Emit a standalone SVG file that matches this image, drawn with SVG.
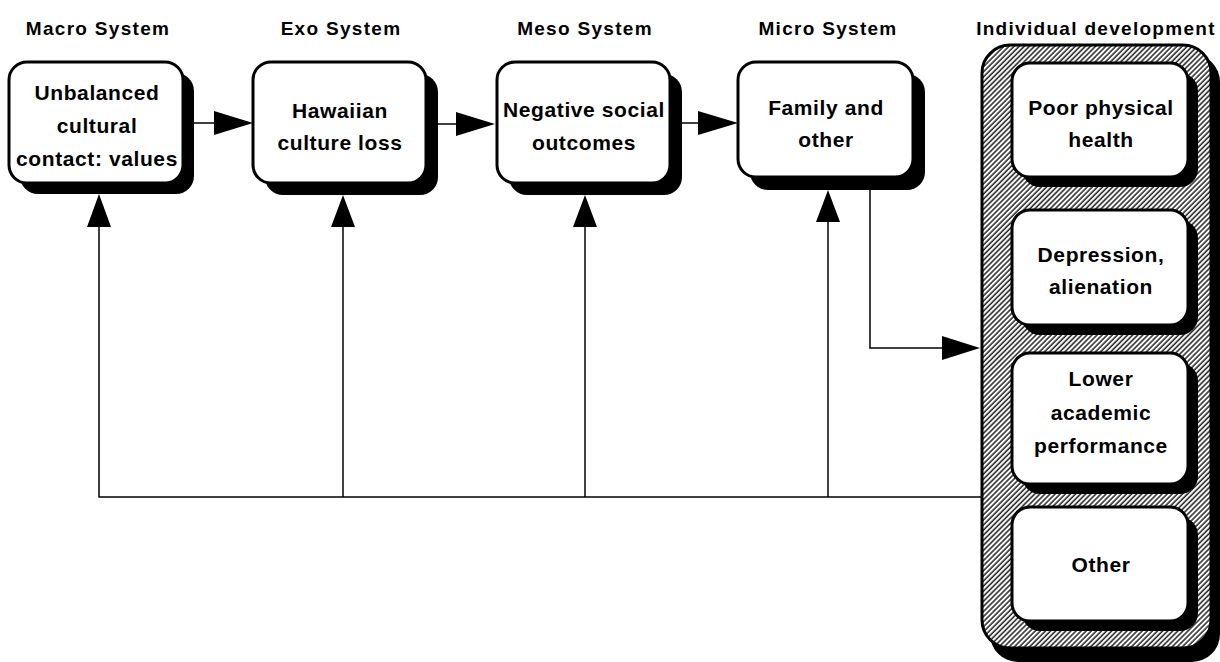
<svg xmlns="http://www.w3.org/2000/svg" width="1220" height="662" viewBox="0 0 1220 662">
<defs>
<pattern id="hatch" width="3.6" height="10" patternUnits="userSpaceOnUse" patternTransform="rotate(45)">
<rect width="3.6" height="10" fill="#fff"/>
<line x1="1" y1="0" x2="1" y2="10" stroke="#000" stroke-width="1.3"/>
</pattern>
</defs>
<style>
.hdr{font-family:"Liberation Sans",Arial,sans-serif;font-weight:bold;font-size:19px;letter-spacing:1.3px;text-anchor:middle;fill:#000}
.lbl{font-family:"Liberation Sans",Arial,sans-serif;font-weight:bold;font-size:21px;letter-spacing:0.6px;text-anchor:middle;fill:#000}
.box{fill:#fff;stroke:#000;stroke-width:3}
.shd{fill:#000}
.ln{fill:none;stroke:#000;stroke-width:1.5}
.ah{fill:#000}
</style>
<rect width="1220" height="662" fill="#fff"/>

<g id="headers">
<text class="hdr" x="98" y="35">Macro System</text>
<text class="hdr" x="341" y="35">Exo System</text>
<text class="hdr" x="585" y="35">Meso System</text>
<text class="hdr" x="828" y="35">Micro System</text>
<text class="hdr" x="1096" y="35">Individual development</text>
</g>

<g id="connectors">
<line class="ln" x1="194" y1="123" x2="216" y2="123"/>
<polygon class="ah" points="214,111 253,123 214,135"/>
<line class="ln" x1="437" y1="124" x2="458" y2="124"/>
<polygon class="ah" points="456,112 495,124 456,136"/>
<line class="ln" x1="682" y1="123" x2="700" y2="123"/>
<polygon class="ah" points="698,111 738,123 698,135"/>
<polyline class="ln" points="99,226 99,497 982,497"/>
<line class="ln" x1="343" y1="226" x2="343" y2="497"/>
<line class="ln" x1="585" y1="226" x2="585" y2="497"/>
<line class="ln" x1="828" y1="221" x2="828" y2="497"/>
<polygon class="ah" points="87,227 99,194 111,227"/>
<polygon class="ah" points="331,227 343,195 355,227"/>
<polygon class="ah" points="573,227 585,195 597,227"/>
<polygon class="ah" points="816,222 828,190 840,222"/>
<polyline class="ln" points="870,190 870,348 944,348"/>
<polygon class="ah" points="942,336 980,348 942,360"/>
</g>

<g id="macro">
<rect class="shd" x="20" y="73" width="174" height="121" rx="18"/>
<rect class="box" x="9" y="62" width="174" height="121" rx="18"/>
<text class="lbl" x="97" y="100">Unbalanced</text>
<text class="lbl" x="97" y="133">cultural</text>
<text class="lbl" x="97" y="166">contact: values</text>
</g>

<g id="exo">
<rect class="shd" x="265" y="74" width="173" height="121" rx="18"/>
<rect class="box" x="253" y="62" width="173" height="121" rx="18"/>
<text class="lbl" x="340" y="118">Hawaiian</text>
<text class="lbl" x="340" y="150">culture loss</text>
</g>

<g id="meso">
<rect class="shd" x="509" y="74" width="173" height="121" rx="18"/>
<rect class="box" x="497" y="62" width="173" height="121" rx="18"/>
<text class="lbl" x="584" y="117">Negative social</text>
<text class="lbl" x="584" y="150">outcomes</text>
</g>

<g id="micro">
<rect class="shd" x="750" y="74" width="175" height="116" rx="18"/>
<rect class="box" x="738" y="62" width="175" height="115" rx="18"/>
<text class="lbl" x="826" y="115">Family and</text>
<text class="lbl" x="826" y="147">other</text>
</g>

<g id="individual">
<rect class="shd" x="990" y="54" width="230" height="608" rx="28"/>
<rect x="982" y="45" width="229" height="603" rx="28" fill="url(#hatch)" stroke="#000" stroke-width="3"/>
</g>

<g id="poor-health">
<rect class="shd" x="1022" y="73" width="176" height="114" rx="18"/>
<rect class="box" x="1012" y="63" width="176" height="114" rx="18"/>
<text class="lbl" x="1101" y="115">Poor physical</text>
<text class="lbl" x="1101" y="147">health</text>
</g>

<g id="depression">
<rect class="shd" x="1022" y="220" width="176" height="115" rx="18"/>
<rect class="box" x="1012" y="210" width="176" height="115" rx="18"/>
<text class="lbl" x="1101" y="262">Depression,</text>
<text class="lbl" x="1101" y="294">alienation</text>
</g>

<g id="academic">
<rect class="shd" x="1022" y="363" width="176" height="131" rx="18"/>
<rect class="box" x="1012" y="353" width="176" height="131" rx="18"/>
<text class="lbl" x="1101" y="386">Lower</text>
<text class="lbl" x="1101" y="420">academic</text>
<text class="lbl" x="1101" y="453">performance</text>
</g>

<g id="other">
<rect class="shd" x="1022" y="517" width="176" height="114" rx="18"/>
<rect class="box" x="1012" y="507" width="176" height="114" rx="18"/>
<text class="lbl" x="1101" y="572">Other</text>
</g>
</svg>
